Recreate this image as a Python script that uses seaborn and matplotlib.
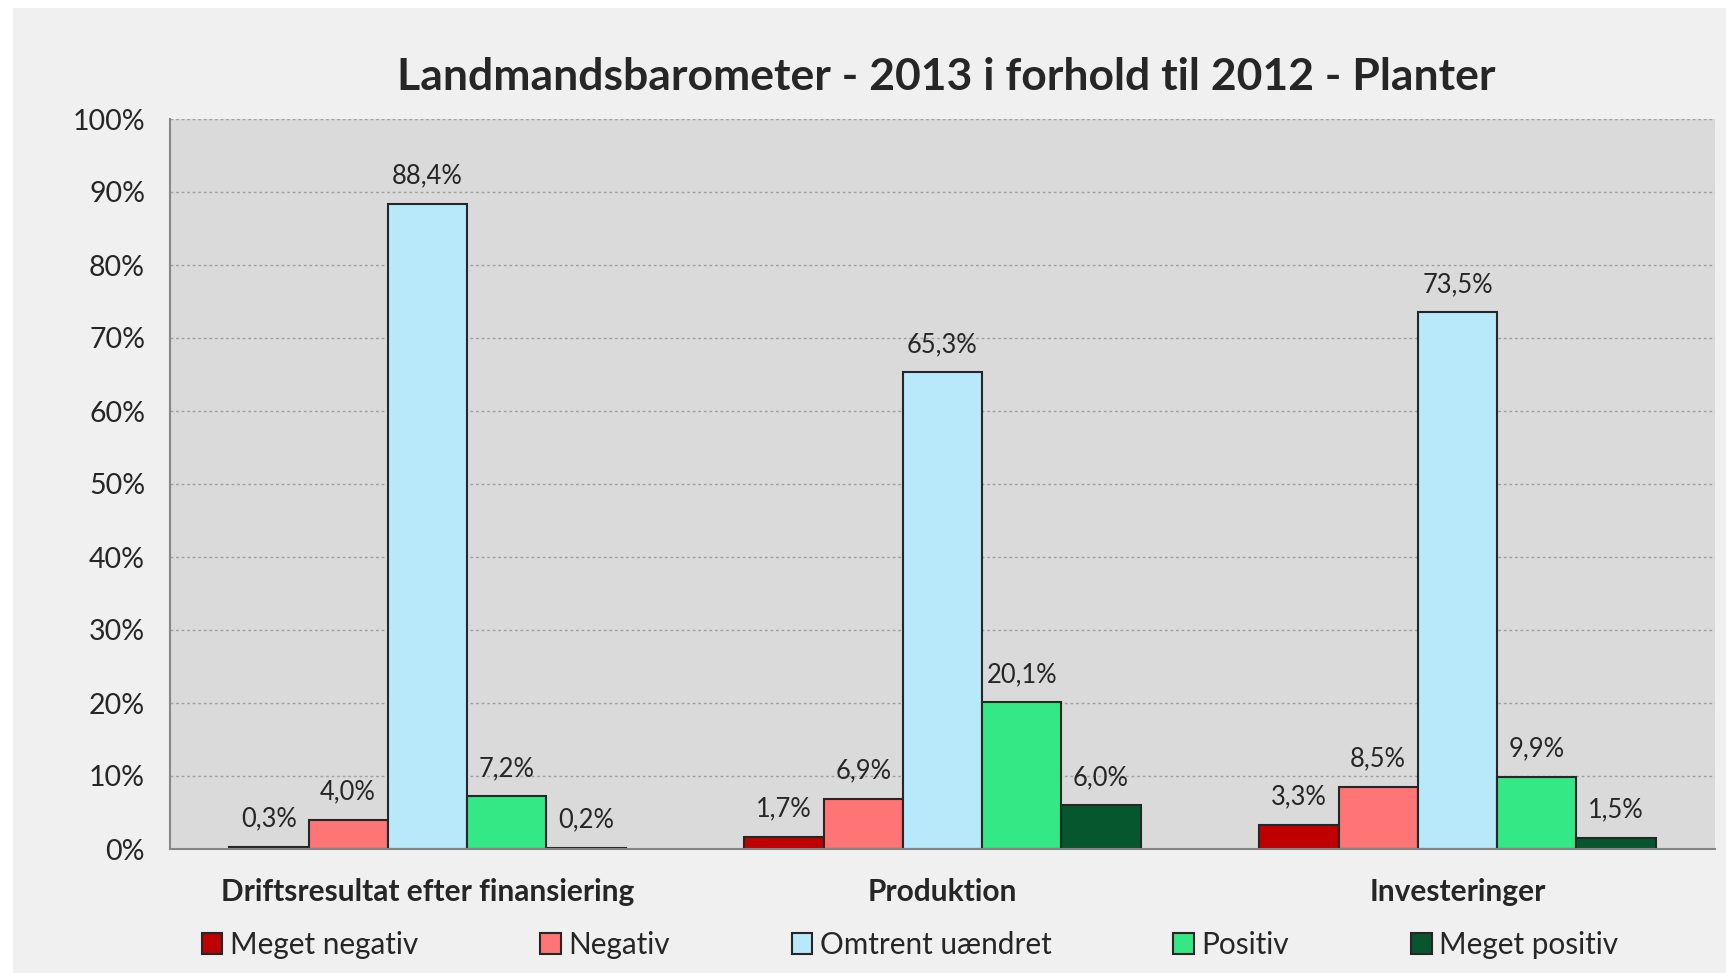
import numpy as np
import pandas as pd
import matplotlib.pyplot as plt
import seaborn as sns
from matplotlib.patches import Rectangle

# Data (percent)
categories = ["Driftsresultat efter finansiering", "Produktion", "Investeringer"]
series = ["Meget negativ", "Negativ", "Omtrent uændret", "Positiv", "Meget positiv"]
meget_negativ = [0.3, 1.7, 3.3]
negativ = [4.0, 6.9, 8.5]
omtrent_uaendret = [88.4, 65.3, 73.5]
positiv = [7.2, 20.1, 9.9]
meget_positiv = [0.2, 6.0, 1.5]
colors = ["#C00000", "#FF7474", "#B7E9FA", "#33E885", "#07572E"]
y_ticks = list(range(0, 101, 10))
y_tick_labels = [f"{t}%" for t in y_ticks]
title = "Landmandsbarometer - 2013 i forhold til 2012 - Planter"

wide = pd.DataFrame({
    "kategori": categories,
    "Meget negativ": meget_negativ,
    "Negativ": negativ,
    "Omtrent uændret": omtrent_uaendret,
    "Positiv": positiv,
    "Meget positiv": meget_positiv,
})
df = wide.melt(id_vars="kategori", var_name="serie", value_name="andel")

sns.set_style("white")
plt.rcParams["font.family"] = ["Lato", "DejaVu Sans"]

W, H = 1726, 973
fig = plt.figure(figsize=(W / 100, H / 100), dpi=100, facecolor="white")
# light grey chart area inside a thin white frame
fig.patches.append(Rectangle((13 / W, 0), 1, 1 - 8 / H, transform=fig.transFigure,
                             facecolor="#F0F0F0", edgecolor="none", zorder=-10))

ax = fig.add_axes([170 / W, 1 - 849 / H, (1715 - 170) / W, (849 - 119) / H])
ax.set_facecolor("#DADADA")

sns.barplot(data=df, x="kategori", y="andel", hue="serie", order=categories,
            hue_order=series, palette=colors, saturation=1, width=0.77,
            edgecolor="#262626", linewidth=1.5, ax=ax, zorder=3)

for cont in ax.containers:
    labels = [f"{v:.1f}%".replace(".", ",") for v in cont.datavalues]
    ax.bar_label(cont, labels=labels, padding=11, fontsize=18.4)

# axes styling
ax.set_ylim(0, 100)
ax.set_xlim(-0.5, 2.5)
ax.set_yticks(y_ticks)
ax.set_yticklabels(y_tick_labels, fontsize=20.5)
ax.set_xticks(range(len(categories)))
ax.set_xticklabels(categories, fontsize=21.5, fontweight="bold")
ax.set_xticks([-0.5, 0.5, 1.5, 2.5], minor=True)
ax.tick_params(axis="x", which="major", length=0, pad=21)
ax.tick_params(axis="x", which="minor", length=8, width=1.5, color="#868686")
ax.tick_params(axis="y", length=7, width=1.5, color="#868686", pad=11)
ax.set_xlabel("")
ax.set_ylabel("")

ax.yaxis.grid(True, linestyle=(0, (2, 2)), color="#A0A0A0", linewidth=1)
ax.set_axisbelow(True)
for s in ["top", "right"]:
    ax.spines[s].set_visible(False)
for s in ["left", "bottom"]:
    ax.spines[s].set_color("#868686")
    ax.spines[s].set_linewidth(1.5)
ax.spines["bottom"].set_zorder(4)

handles, labels = ax.get_legend_handles_labels()
ax.legend_.remove()
fig.legend(handles, labels, loc="center", bbox_to_anchor=(910 / W, 1 - 945 / H),
           ncol=5, frameon=False, fontsize=21.4, handlelength=0.7, handleheight=0.7,
           handletextpad=0.25, columnspacing=4.1)

fig.text(946 / W, 1 - 77 / H, title, ha="center", va="center",
         fontsize=32, fontweight="bold")

fig.savefig("out.png", dpi=100, facecolor=fig.get_facecolor())
